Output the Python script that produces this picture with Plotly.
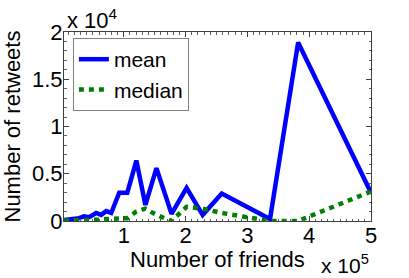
import plotly.graph_objects as go

friends = [3250, 16260, 27640, 35770, 43900, 55280, 63410, 71540, 79670, 92680,
           105690, 120330, 134960, 152850, 177240, 201630, 227640, 258540,
           336590, 382110, 499190]
mean_rt = [100, 200, 300, 500, 400, 850, 650, 1050, 850, 3000,
           3000, 6400, 1700, 5600, 750, 3500, 650, 2900,
           200, 18900, 3100]
median_rt = [50, 50, 100, 100, 100, 150, 150, 200, 200, 250,
             300, 1000, 1300, 650, 0, 1500, 1300, 850,
             0, 0, 3100]

xticks = [100000, 200000, 300000, 400000, 500000]
xlabels = ["1", "2", "3", "4", "5"]
yticks = [0, 5000, 10000, 15000, 20000]
ylabels = ["0", "0.5", "1", "1.5", "2"]

FONT = "Liberation Sans, Arial, Helvetica, sans-serif"
L, R, T, B = 64, 38, 32, 57
W, H = 409, 278
PW, PH = W - L - R, H - T - B

fig = go.Figure()
fig.add_trace(go.Scatter(x=friends, y=mean_rt, mode="lines", name="mean",
                         line=dict(color="#0000FF", width=4.5)))
fig.add_trace(go.Scatter(x=friends, y=median_rt, mode="lines", name="median",
                         line=dict(color="#008000", width=4.5, dash="5px,5px")))

axis_common = dict(showgrid=False, zeroline=False, showline=True, linecolor="#404040",
                   linewidth=1, mirror="ticks", ticks="inside", ticklen=5,
                   tickcolor="#404040", automargin=False,
                   tickfont=dict(size=22, color="black", family=FONT))

fig.update_xaxes(range=[3250, 500000], tickvals=xticks, ticktext=xlabels,
                 ticklabelstandoff=-5,
                 minor=dict(ticks="inside", ticklen=2.5, dtick=10000, tick0=0,
                            tickcolor="#606060"),
                 **axis_common)
fig.update_yaxes(range=[0, 20000], tickvals=yticks, ticktext=ylabels,
                 ticklabelstandoff=-4,
                 minor=dict(ticks="inside", ticklen=2.5, dtick=1000, tick0=0,
                            tickcolor="#606060"),
                 **axis_common)

tfont = dict(size=22, family=FONT, color="black")
# axis titles
fig.add_annotation(text="Number of friends", xref="paper", yref="paper",
                   x=0.5, y=-(259 - (T + PH)) / PH, xanchor="center", yanchor="middle",
                   showarrow=False, font=tfont)
fig.add_annotation(text="Number of retweets", xref="paper", yref="paper",
                   x=(12 - L) / PW, y=0.5, xanchor="center", yanchor="middle",
                   textangle=-90, showarrow=False, font=tfont)
# exponent labels
fig.add_annotation(text="x 10<sup>4</sup>", xref="paper", yref="paper",
                   x=(65 - L) / PW, y=(T + PH - 19) / PH, xanchor="left", yanchor="middle",
                   showarrow=False, font=tfont)
fig.add_annotation(text="x 10<sup>5</sup>", xref="paper", yref="paper",
                   x=(371 - L) / PW, y=-(264 - (T + PH)) / PH, xanchor="right", yanchor="middle",
                   showarrow=False, font=dict(size=21, family=FONT, color="black"))

fig.update_layout(
    width=W, height=H,
    margin=dict(l=L, r=R, t=T, b=B, autoexpand=False),
    paper_bgcolor="white", plot_bgcolor="white",
    showlegend=True,
    legend=dict(x=0.029, y=0.968, xanchor="left", yanchor="top",
                bordercolor="#808080", borderwidth=1, bgcolor="white",
                font=dict(size=21, family=FONT, color="black"),
                itemwidth=30, tracegroupgap=0),
    font=dict(family=FONT),
)

fig.write_html("out.html", config={"displayModeBar": False},
               post_script="document.body.style.margin='0px';document.body.style.padding='0px';")
